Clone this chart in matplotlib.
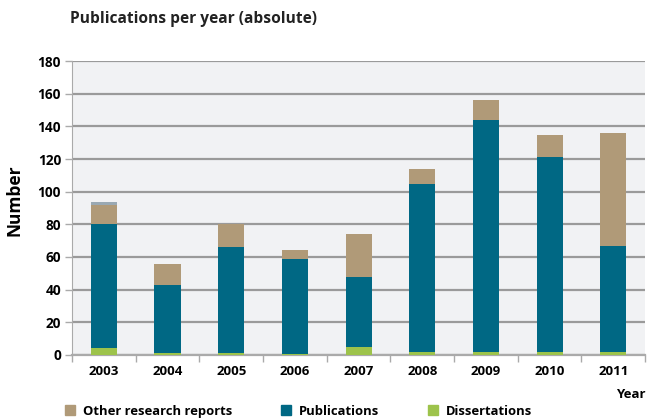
import matplotlib.pyplot as plt
import numpy as np
from matplotlib.patches import Patch

plt.rcParams['font.family'] = ['Open Sans', 'DejaVu Sans']

years = ['2003', '2004', '2005', '2006', '2007', '2008', '2009', '2010', '2011']
dissertations = [4, 1, 1, 0.5, 5, 1.5, 2, 1.5, 2]
publications = [76, 42, 65, 58.5, 43, 103.5, 142, 120, 65]
other_reports = [12, 13, 14, 5, 26, 9, 12, 13.5, 69]
unassigned = [1.5, 0, 0, 0, 0, 0, 0, 0, 0]

c_diss = '#9dc34b'
c_pub = '#006884'
c_other = '#b09a78'
c_misc = '#9aa9b3'

fig = plt.figure(figsize=(6.49, 4.19), dpi=100)
ax = fig.add_axes([0.111, 0.153, 0.883, 0.701])
ax.set_facecolor('#f1f2f4')

x = np.arange(len(years))
w = 0.41
b1 = np.array(dissertations)
b2 = b1 + np.array(publications)
b3 = b2 + np.array(other_reports)
ax.bar(x, dissertations, w, color=c_diss, zorder=3)
ax.bar(x, publications, w, bottom=b1, color=c_pub, zorder=3)
ax.bar(x, other_reports, w, bottom=b2, color=c_other, zorder=3)
ax.bar(x, unassigned, w, bottom=b3, color=c_misc, zorder=3)

ax.set_xlim(-0.5, len(years) - 0.5)
ax.set_ylim(0, 180)
ax.set_yticks(np.arange(0, 181, 20))
ax.yaxis.grid(True, color='#9a9a9a', linewidth=1.6, zorder=1)
ax.set_axisbelow(True)

# category boundaries carry the x tick marks, labels sit at the centres
ax.set_xticks(np.arange(-0.5, len(years), 1.0))
ax.set_xticklabels([])
ax.set_xticks(x, minor=True)
ax.set_xticklabels(years, minor=True, fontsize=9.5, fontweight='bold')
ax.tick_params(axis='x', which='minor', length=0, pad=7)
ax.tick_params(axis='x', which='major', length=5, width=1, color='#aaaaaa')
ax.tick_params(axis='y', length=5, width=1, color='#aaaaaa', labelsize=9.8, pad=3)
for lab in ax.get_yticklabels():
    lab.set_fontweight('bold')

for s in ['top', 'right']:
    ax.spines[s].set_visible(False)
ax.spines['left'].set_color('#aaaaaa')
ax.spines['bottom'].set_color('#aaaaaa')
ax.spines['bottom'].set_linewidth(1.6)

ax.set_ylabel('Number', fontsize=12.5, fontweight='bold')
ax.yaxis.set_label_coords(-0.084, 0.527)
fig.text(0.108, 0.955, 'Publications per year (absolute)', fontsize=11.2,
         fontweight='bold', color='#222222', va='center')
fig.text(0.995, 0.058, 'Year', fontsize=9.5, fontweight='bold',
         ha='right', va='center')

handles = [Patch(color=c_other, label='Other research reports'),
           Patch(color=c_pub, label='Publications'),
           Patch(color=c_diss, label='Dissertations')]
leg = fig.legend(handles=handles, loc='lower left', bbox_to_anchor=(0.082, -0.025),
                 ncol=3, frameon=False, handlelength=0.8, handleheight=0.8,
                 handletextpad=0.6, columnspacing=3.7,
                 prop={'size': 9.4, 'weight': 'bold'})

fig.savefig('out.png', dpi=100)
